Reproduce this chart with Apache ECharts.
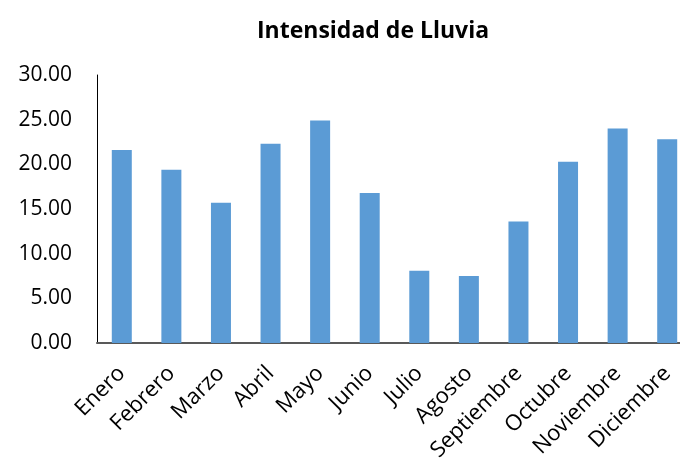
<!DOCTYPE html>
<html>
<head>
<meta charset="utf-8">
<script src="https://cdn.jsdelivr.net/npm/echarts@6/dist/echarts.min.js"></script>
<style>
html, body { margin: 0; padding: 0; background: #fff; overflow: hidden; }
/* the plot runs past the right edge in the original, so the canvas is a bit wider than the window */
#chart { width: 694px; height: 464px; }
</style>
</head>
<body>
<div id="chart"></div>
<script>
var meses = ['Enero', 'Febrero', 'Marzo', 'Abril', 'Mayo', 'Junio', 'Julio', 'Agosto', 'Septiembre', 'Octubre', 'Noviembre', 'Diciembre'];
var intensidad = [21.6, 19.4, 15.7, 22.3, 24.9, 16.8, 8.1, 7.5, 13.6, 20.3, 24.0, 22.8];

var chart = echarts.init(document.getElementById('chart'));
var fuente = '"Open Sans", "Liberation Sans", sans-serif';
var option = {
    animation: false,
    title: {
        text: 'Intensidad de Lluvia',
        left: 252,
        top: 15,
        textStyle: { fontFamily: fuente, fontSize: 23, fontWeight: 'bold', color: '#000' }
    },
    grid: { left: 97, top: 75, width: 595, height: 268 },
    xAxis: {
        type: 'category',
        data: meses,
        axisLine: { lineStyle: { color: '#595959', width: 2 } },
        axisTick: { show: false },
        axisLabel: {
            rotate: 45,
            margin: 27,
            interval: 0,
            fontFamily: fuente,
            fontSize: 22,
            color: '#000'
        }
    },
    yAxis: {
        type: 'value',
        min: 0,
        max: 30,
        interval: 5,
        axisLine: { show: true, lineStyle: { color: '#000', width: 1 } },
        axisTick: { show: false },
        splitLine: { show: false },
        axisLabel: {
            margin: 25,
            fontFamily: fuente,
            fontSize: 21,
            color: '#000',
            formatter: function (v) { return v.toFixed(2); }
        }
    },
    series: [{
        type: 'bar',
        data: intensidad,
        barWidth: 20,
        itemStyle: { color: '#5b9bd5' }
    }]
};
chart.setOption(option);
</script>
</body>
</html>
